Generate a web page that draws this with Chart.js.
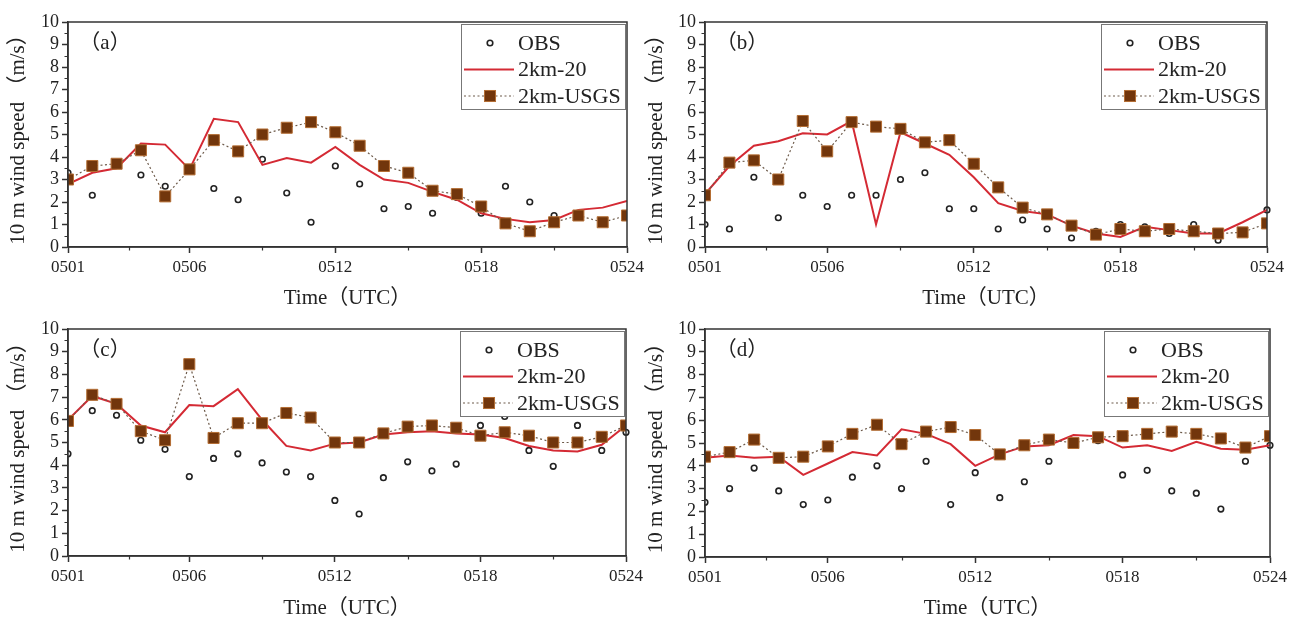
<!DOCTYPE html>
<html lang="en">
<head>
<meta charset="UTF-8">
<title>10 m wind speed</title>
<style>
  body { margin: 0; background: #fff; }
  #wrap { position: relative; width: 1289px; height: 622px; overflow: hidden; }
  .panel { position: absolute; }
</style>
</head>
<body>
<div id="wrap">
  <div class="panel" style="left:0;top:0;width:660px;height:311px"><canvas id="ca"></canvas></div>
  <div class="panel" style="left:640px;top:0;width:649px;height:311px"><canvas id="cb"></canvas></div>
  <div class="panel" style="left:0;top:311px;width:660px;height:311px"><canvas id="cc"></canvas></div>
  <div class="panel" style="left:640px;top:311px;width:649px;height:311px"><canvas id="cd"></canvas></div>
</div>

<script src="https://cdn.jsdelivr.net/npm/chart.js"></script>
<script>
// days of May (x = index + 1)
const days = ['0501','0502','0503','0504','0505','0506','0507','0508','0509','0510','0511','0512',
              '0513','0514','0515','0516','0517','0518','0519','0520','0521','0522','0523','0524'];
const xTickVals = [1, 6, 12, 18, 24];
const xMinor = [3.5, 9, 15, 21];
const seriesNames = ['OBS', '2km-20', '2km-USGS'];

// (a)
const obsA  = [3.3, 2.3, null, 3.2, 2.7, null, 2.6, 2.1, 3.9, 2.4, 1.1, 3.6, 2.8, 1.7, 1.8, 1.5, 2.2, 1.5, 2.7, 2.0, 1.4, null, null, null];
const km20A = [2.8, 3.3, 3.5, 4.6, 4.55, 3.45, 5.7, 5.55, 3.65, 3.95, 3.75, 4.45, 3.65, 3.0, 2.85, 2.45, 2.1, 1.5, 1.25, 1.1, 1.2, 1.65, 1.75, 2.05];
const usgsA = [3.0, 3.6, 3.7, 4.3, 2.25, 3.45, 4.75, 4.25, 5.0, 5.3, 5.55, 5.1, 4.5, 3.6, 3.3, 2.5, 2.35, 1.8, 1.05, 0.7, 1.1, 1.4, 1.1, 1.4];
// (b)
const obsB  = [1.0, 0.8, 3.1, 1.3, 2.3, 1.8, 2.3, 2.3, 3.0, 3.3, 1.7, 1.7, 0.8, 1.2, 0.8, 0.4, 0.7, 1.0, 0.9, 0.6, 1.0, 0.3, null, 1.65];
const km20B = [2.35, 3.6, 4.5, 4.7, 5.05, 5.0, 5.6, 1.0, 5.1, 4.6, 4.1, 3.1, 1.95, 1.6, 1.45, 0.95, 0.6, 0.45, 0.9, 0.75, 0.6, 0.6, 1.1, 1.65];
const usgsB = [2.3, 3.75, 3.85, 3.0, 5.6, 4.25, 5.55, 5.35, 5.25, 4.65, 4.75, 3.7, 2.65, 1.75, 1.45, 0.95, 0.55, 0.8, 0.7, 0.8, 0.7, 0.6, 0.65, 1.05];
// (c)
const obsC  = [4.5, 6.4, 6.2, 5.1, 4.7, 3.5, 4.3, 4.5, 4.1, 3.7, 3.5, 2.45, 1.85, 3.45, 4.15, 3.75, 4.05, 5.75, 6.15, 4.65, 3.95, 5.75, 4.65, 5.45];
const km20C = [6.0, 7.05, 6.7, 5.75, 5.45, 6.65, 6.6, 7.35, 6.0, 4.85, 4.65, 4.95, 5.0, 5.35, 5.45, 5.5, 5.4, 5.35, 5.2, 4.85, 4.65, 4.6, 4.9, 5.75];
const usgsC = [5.95, 7.1, 6.7, 5.5, 5.1, 8.45, 5.2, 5.85, 5.85, 6.3, 6.1, 5.0, 5.0, 5.4, 5.7, 5.75, 5.65, 5.3, 5.45, 5.3, 5.0, 5.0, 5.25, 5.75];
// (d)
const obsD  = [2.4, 3.0, 3.9, 2.9, 2.3, 2.5, 3.5, 4.0, 3.0, 4.2, 2.3, 3.7, 2.6, 3.3, 4.2, 4.9, 5.1, 3.6, 3.8, 2.9, 2.8, 2.1, 4.2, 4.9];
const km20D = [4.35, 4.45, 4.35, 4.4, 3.6, 4.1, 4.6, 4.45, 5.6, 5.4, 4.95, 4.0, 4.5, 4.85, 4.9, 5.35, 5.3, 4.8, 4.9, 4.65, 5.05, 4.75, 4.7, 4.9];
const usgsD = [4.4, 4.6, 5.15, 4.35, 4.4, 4.85, 5.4, 5.8, 4.95, 5.5, 5.7, 5.35, 4.5, 4.9, 5.15, 5.0, 5.25, 5.3, 5.4, 5.5, 5.4, 5.2, 4.8, 5.3];

const FONT = "'Liberation Serif', 'Noto Sans CJK SC', serif";
const AXIS = '#333';

const toXY = arr => arr.map((v, i) => ({ x: i + 1, y: v }));

// frame, minor ticks, panel tag and legend
const decor = {
  id: 'decor',
  afterDraw(chart, args, opts) {
    const { ctx, chartArea: a, scales } = chart;
    ctx.save();
    ctx.strokeStyle = AXIS;
    ctx.lineWidth = 1.5;
    ctx.strokeRect(a.left, a.top, a.right - a.left, a.bottom - a.top);

    ctx.lineWidth = 1.2;
    ctx.beginPath();
    for (let v = 0.5; v < 10; v += 1) {
      const py = Math.round(scales.y.getPixelForValue(v)) + 0.5;
      ctx.moveTo(a.left - 3.5, py); ctx.lineTo(a.left, py);
    }
    xMinor.forEach(v => {
      const px = Math.round(scales.x.getPixelForValue(v)) + 0.5;
      ctx.moveTo(px, a.bottom); ctx.lineTo(px, a.bottom + 3.5);
    });
    ctx.stroke();

    ctx.fillStyle = '#222';
    ctx.font = '21px ' + FONT;
    ctx.textAlign = 'center';
    ctx.textBaseline = 'middle';
    ctx.fillText(opts.tag, a.left + 37, a.top + 21);

    // legend box
    const bw = 164, bh = 85;
    const bx = a.right - bw - 2, by = a.top + 2;
    ctx.fillStyle = '#fff';
    ctx.fillRect(bx, by, bw, bh);
    ctx.strokeStyle = '#777';
    ctx.lineWidth = 1;
    ctx.strokeRect(bx + 0.5, by + 0.5, bw, bh);
    ctx.font = '22px ' + FONT;
    ctx.textAlign = 'left';
    chart.data.datasets.forEach((ds, i) => {
      const cy = by + 19 + i * 26.5;
      if (ds.showLine !== false) {
        ctx.strokeStyle = ds.borderColor;
        ctx.lineWidth = ds.borderWidth;
        ctx.setLineDash(ds.borderDash || []);
        ctx.beginPath(); ctx.moveTo(bx + 3, cy); ctx.lineTo(bx + 53, cy); ctx.stroke();
        ctx.setLineDash([]);
      }
      if (ds.pointRadius > 0) {
        ctx.fillStyle = ds.pointBackgroundColor;
        ctx.strokeStyle = ds.pointBorderColor;
        ctx.lineWidth = ds.pointBorderWidth;
        if (ds.pointStyle === 'rect') {
          const s = ds.pointRadius * Math.SQRT1_2;
          ctx.fillRect(bx + 29 - s, cy - s, 2 * s, 2 * s);
          ctx.strokeRect(bx + 29 - s, cy - s, 2 * s, 2 * s);
        } else {
          ctx.beginPath(); ctx.arc(bx + 29, cy, ds.pointRadius, 0, Math.PI * 2);
          ctx.fill(); ctx.stroke();
        }
      }
      ctx.fillStyle = '#222';
      ctx.fillText(ds.label, bx + 57, cy + 1);
    });
    ctx.restore();
  }
};

function makePanel(id, tag, obs, km20, usgs, box) {
  new Chart(document.getElementById(id), {
    type: 'line',
    data: {
      datasets: [
        { label: seriesNames[0], data: toXY(obs), showLine: false, order: 3,
          pointStyle: 'circle', pointRadius: 2.8, pointBorderWidth: 1.6,
          pointBackgroundColor: '#fff', pointBorderColor: '#222', borderColor: '#222',
          clip: { left: 0, top: 5, right: 5, bottom: 5 } },
        { label: seriesNames[1], data: toXY(km20), order: 2,
          borderColor: '#d42a34', borderWidth: 2, pointRadius: 0, tension: 0 },
        { label: seriesNames[2], data: toXY(usgs), order: 1,
          borderColor: '#6d5a4a', borderWidth: 1.2, borderDash: [2, 2.5],
          pointStyle: 'rect', pointRadius: 7.8, pointBorderWidth: 1,
          pointBackgroundColor: '#72360c', pointBorderColor: '#b46e34' }
      ]
    },
    options: {
      responsive: true,
      maintainAspectRatio: false,
      animation: false,
      devicePixelRatio: 1,
      layout: { padding: { top: box.top, right: box.right, left: 0, bottom: 0 } },
      plugins: { legend: { display: false }, tooltip: { enabled: false }, decor: { tag } },
      scales: {
        x: {
          type: 'linear', min: 1, max: 24,
          border: { color: AXIS, width: 1.5 },
          grid: { drawOnChartArea: false, tickLength: 6, tickColor: AXIS, tickWidth: 1.5 },
          ticks: { autoSkip: false, maxRotation: 0, padding: 4, color: '#222',
                   font: { family: FONT, size: 17 }, callback: v => days[v - 1] },
          afterBuildTicks: s => { s.ticks = xTickVals.map(v => ({ value: v })); },
          afterFit: s => { s.height = box.xh; s.paddingLeft = 0; s.paddingRight = 0; },
          title: { display: true, text: 'Time（UTC）', color: '#222',
                   font: { family: FONT, size: 21 }, padding: { top: 0, bottom: box.tpad } }
        },
        y: {
          min: 0, max: 10,
          border: { color: AXIS, width: 1.5 },
          grid: { drawOnChartArea: false, tickLength: 6, tickColor: AXIS, tickWidth: 1.5 },
          ticks: { stepSize: 1, autoSkip: false, padding: 3, color: '#222',
                   font: { family: FONT, size: 18 } },
          afterFit: s => { s.width = box.yw; s.paddingTop = 0; s.paddingBottom = 0; },
          title: { display: true, text: '10 m wind speed （m/s）', color: '#222',
                   font: { family: FONT, size: 21 }, padding: { top: box.ypad, bottom: 0 } }
        }
      }
    },
    plugins: [decor]
  });
}

makePanel('ca', '（a）', obsA, km20A, usgsA, { top: 22, right: 33, xh: 64, yw: 68, tpad: 0, ypad: 6 });
makePanel('cb', '（b）', obsB, km20B, usgsB, { top: 22, right: 22, xh: 64, yw: 65, tpad: 0, ypad: 4 });
makePanel('cc', '（c）', obsC, km20C, usgsC, { top: 18, right: 34, xh: 66, yw: 68, tpad: 1, ypad: 6 });
makePanel('cd', '（d）', obsD, km20D, usgsD, { top: 18, right: 19, xh: 65, yw: 65, tpad: 1, ypad: 4 });
</script>
</body>
</html>
